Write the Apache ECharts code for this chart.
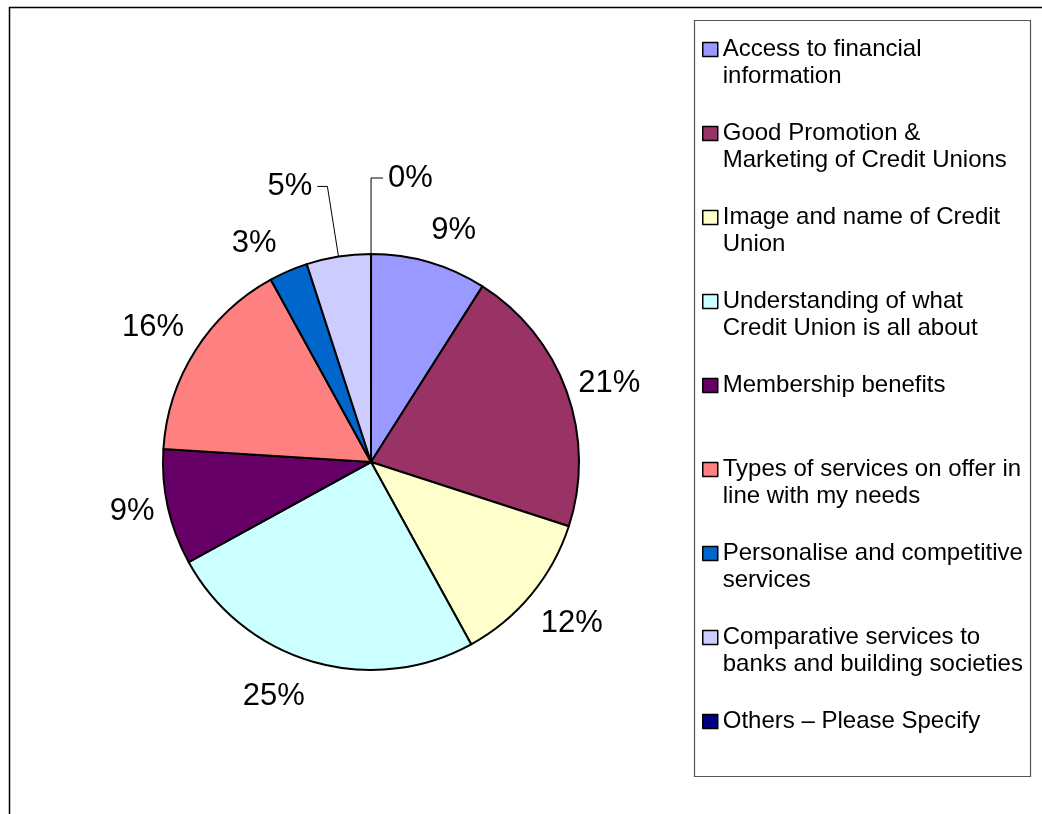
<!DOCTYPE html>
<html>
<head>
<meta charset="utf-8">
<title>Factors influencing membership</title>
<script src="https://cdn.jsdelivr.net/npm/echarts@6/dist/echarts.min.js"></script>
<style>
  html, body { margin: 0; padding: 0; background: #fff; }
  #chart { width: 1042px; height: 814px; }
</style>
</head>
<body>
<div id="chart"></div>
<script>
// Legend entries (line breaks as they wrap in the legend box)
const categories = [
  'Access to financial\ninformation',
  'Good Promotion &\nMarketing of Credit Unions',
  'Image and name of Credit\nUnion',
  'Understanding of what\nCredit Union is all about',
  'Membership benefits',
  'Types of services on offer in\nline with my needs',
  'Personalise and competitive\nservices',
  'Comparative services to\nbanks and building societies',
  'Others \u2013 Please Specify'
];

// Share of responses, in percent
const shares = [9, 21, 12, 25, 9, 16, 3, 5, 0];

const sliceColors = [
  '#9999FF', '#993366', '#FFFFCC', '#CCFFFF', '#660066',
  '#FF8080', '#0066CC', '#CCCCFF', '#000080'
];

// Per-slice label placement: leader visibility and its two segment lengths
const labelGuides = [
  { show: false, length: 33, length2: -12 },
  { show: false, length: 25, length2: -17 },
  { show: false, length: 46, length2: -31 },
  { show: false, length: 36, length2: -7 },
  { show: false, length: 19, length2: -10 },
  { show: false, length: 43, length2: -30 },
  { show: false, length: 30, length2: -5 },
  { show: true,  length: 71, length2: 10 },
  { show: true,  length: 76, length2: 12 }
];

const FONT = '"Liberation Sans", Arial, sans-serif';

const pieData = categories.map(function (name, i) {
  return {
    name: name,
    value: shares[i],
    itemStyle: { color: sliceColors[i] },
    labelLine: {
      show: labelGuides[i].show,
      length: labelGuides[i].length,
      length2: labelGuides[i].length2
    }
  };
});

const chart = echarts.init(document.getElementById('chart'), null, { renderer: 'canvas' });

chart.setOption({
  backgroundColor: '#ffffff',
  animation: false,
  graphic: [
    {
      type: 'rect',
      z: -10,
      shape: { x: 9.5, y: 7.5, width: 1200, height: 1000 },
      style: { fill: 'none', stroke: '#000', lineWidth: 1.5 },
      silent: true
    },
    {
      type: 'rect',
      z: -5,
      shape: { x: 694.5, y: 20.5, width: 336, height: 756 },
      style: { fill: '#fff', stroke: '#555', lineWidth: 1.2 },
      silent: true
    }
  ],
  legend: {
    orient: 'vertical',
    left: 702,
    top: 9,
    padding: 0,
    itemGap: 3,
    itemWidth: 15,
    itemHeight: 14,
    icon: 'rect',
    data: categories,
    itemStyle: { borderColor: '#000', borderWidth: 1.5 },
    // three text rows per entry, with the first wrapped line in the middle row
    // so that it sits level with the colour key
    formatter: function (name) {
      return '\n' + (name.indexOf('\n') < 0 ? name + '\n ' : name);
    },
    textStyle: {
      color: '#000',
      fontFamily: FONT,
      fontSize: 24,
      lineHeight: 27,
      backgroundColor: 'rgba(0,0,0,0)'
    },
    selectedMode: false
  },
  series: [
    {
      type: 'pie',
      center: [371, 462],
      radius: 208,
      startAngle: 89.99,
      clockwise: true,
      avoidLabelOverlap: false,
      data: pieData,
      itemStyle: { borderColor: '#000', borderWidth: 2 },
      label: {
        show: true,
        position: 'outside',
        formatter: '{c}%',
        color: '#000',
        fontFamily: FONT,
        fontSize: 31,
        distanceToLabelLine: 5
      },
      labelLine: {
        lineStyle: { color: '#000', width: 1 }
      },
      emphasis: { disabled: true }
    }
  ]
});
</script>
</body>
</html>
